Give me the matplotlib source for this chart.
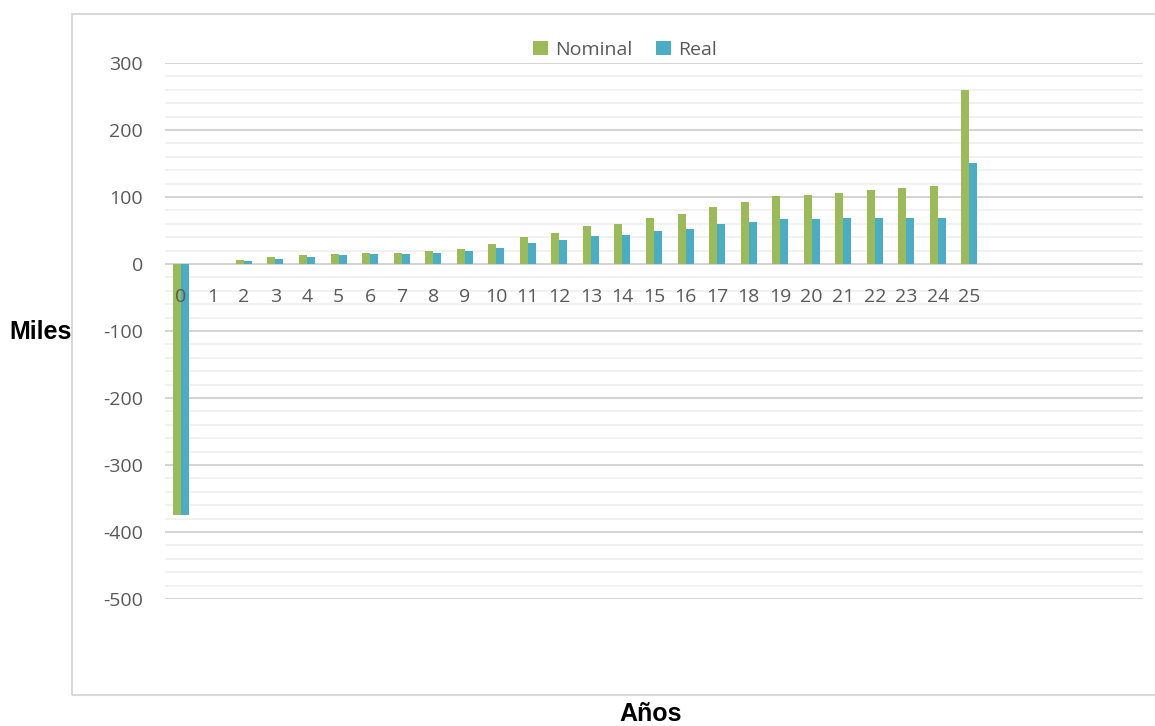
import numpy as np
import matplotlib
matplotlib.use("Agg")
import matplotlib.pyplot as plt
from matplotlib.patches import Rectangle
from matplotlib.ticker import MultipleLocator

############ DATA ########################

years = [str(i) for i in range(26)]
nominal = [-374, 0, 6, 10, 13, 15.5, 16.5, 17, 20, 23, 30, 40, 47, 56, 59,
           69, 74, 85, 93, 101, 103.5, 106.5, 110, 113, 116, 259]
real = [-374, 0, 5, 8, 11, 13, 14.5, 14.5, 17, 19, 24, 32, 36, 42, 43,
        50, 52, 59, 63, 67, 67, 68, 68, 69, 69, 151]
n_slots = 31  # category axis keeps empty slots after year 25

############ PLOT ########################

plt.rcParams['font.family'] = ['Open Sans', 'DejaVu Sans']
plt.rcParams['axes.unicode_minus'] = False  # plain hyphen like the original

fig = plt.figure(figsize=(11.55, 7.26), dpi=100)
ax = fig.add_axes([165/1155, 1-599/726, 978/1155, (599-63)/726])

x = np.arange(len(years))
w = 0.254
ax.bar(x - w/2, nominal, w, color='#9BBB59', label='Nominal', zorder=3)
ax.bar(x + w/2, real, w, color='#4BACC6', label='Real', zorder=3)

ax.set_xlim(-0.5, n_slots - 0.5)
ax.set_ylim(-500, 300)

# gridlines: major every 100, minor every 20
ax.yaxis.set_major_locator(MultipleLocator(100))
ax.yaxis.set_minor_locator(MultipleLocator(20))
ax.grid(axis='y', which='major', color='#d4d4d4', lw=1.4, zorder=0)
ax.grid(axis='y', which='minor', color='#f0f0f0', lw=1.3, zorder=0)
ax.set_axisbelow(True)
ax.axhline(0, color='#d4d4d4', lw=1.4, zorder=1)

for s in ax.spines.values():
    s.set_visible(False)
ax.set_xticks([])
ax.tick_params(axis='y', which='both', length=0, pad=16,
               labelsize=14, labelcolor='#595959')

# category labels sit under the zero line
for i, lab in enumerate(years):
    ax.annotate(lab, xy=(i, 0), xytext=(0, -24), textcoords='offset points',
                ha='center', va='center', fontsize=14, color='#595959',
                zorder=5)

fig.legend(loc='center', bbox_to_anchor=(625/1155, 1-50/726), ncol=2,
           frameon=False, fontsize=14, labelcolor='#595959',
           handlelength=0.75, handleheight=0.75, handletextpad=0.4,
           columnspacing=1.2)

fig.text(41/1155, 1-332/726, 'Miles', ha='center', va='center',
         fontsize=18, fontweight='bold', family='Liberation Sans')
fig.text(651/1155, 1-714/726, 'Años', ha='center', va='center',
         fontsize=18, fontweight='bold', family='Liberation Sans')

# outer chart border
fig.patches.append(Rectangle((72/1155, 1-695/726), 1.2, (695-13.5)/726,
                             transform=fig.transFigure, fill=False,
                             edgecolor='#d9d9d9', lw=1.5))

fig.savefig('out.png', dpi=100)
